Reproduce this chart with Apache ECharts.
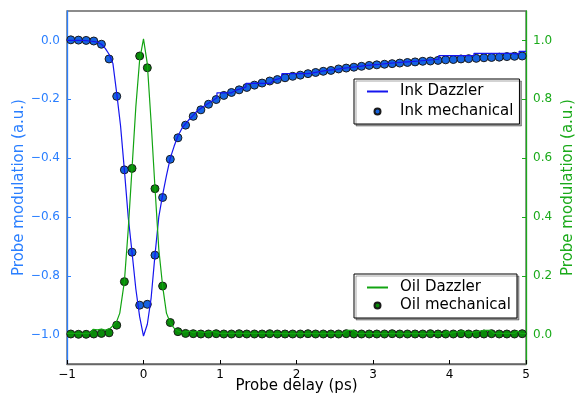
<!DOCTYPE html>
<html>
<head>
<meta charset="utf-8">
<script src="https://cdn.jsdelivr.net/npm/echarts@6/dist/echarts.min.js"></script>
<style>
  html, body { margin: 0; padding: 0; background: #fff; }
  #chart { width: 576px; height: 397px; }
</style>
</head>
<body>
<div id="chart"></div>
<script>
// 刻度
const xTicks = [-1, 0, 1, 2, 3, 4, 5]
const leftTicks = [-1.0, -0.8, -0.6, -0.4, -0.2, 0.0]
const rightTicks = [0.0, 0.2, 0.4, 0.6, 0.8, 1.0]

// 机械斩波的延迟点 (ps)
const mechDelay = [
  -0.95, -0.85, -0.75, -0.65, -0.55, -0.45, -0.35, -0.25, -0.15, -0.05,
  0.05, 0.15, 0.25, 0.35, 0.45, 0.55, 0.65, 0.75, 0.85, 0.95,
  1.05, 1.15, 1.25, 1.35, 1.45, 1.55, 1.65, 1.75, 1.85, 1.95,
  2.05, 2.15, 2.25, 2.35, 2.45, 2.55, 2.65, 2.75, 2.85, 2.95,
  3.05, 3.15, 3.25, 3.35, 3.45, 3.55, 3.65, 3.75, 3.85, 3.95,
  4.05, 4.15, 4.25, 4.35, 4.45, 4.55, 4.65, 4.75, 4.85, 4.95
]
const inkMech = [
  0.002, 0.001, 0.0, -0.002, -0.013, -0.063, -0.19, -0.44, -0.72, -0.9,
  -0.897, -0.73, -0.534, -0.404, -0.331, -0.288, -0.258, -0.236, -0.217, -0.201,
  -0.187, -0.177, -0.168, -0.16, -0.152, -0.145, -0.138, -0.133, -0.127, -0.122,
  -0.118, -0.113, -0.109, -0.105, -0.102, -0.097, -0.094, -0.091, -0.088, -0.085,
  -0.083, -0.081, -0.079, -0.077, -0.075, -0.073, -0.071, -0.07, -0.068, -0.066,
  -0.065, -0.063, -0.062, -0.061, -0.059, -0.058, -0.057, -0.055, -0.054, -0.053
]
const oilMech = [
  0.002, 0.001, 0.001, 0.002, 0.004, 0.006, 0.032, 0.18, 0.565, 0.947,
  0.907, 0.496, 0.165, 0.041, 0.01, 0.004, 0.003, 0.002, 0.002, 0.003,
  0.002, 0.002, 0.003, 0.002, 0.002, 0.002, 0.003, 0.002, 0.002, 0.002,
  0.002, 0.003, 0.002, 0.002, 0.002, 0.002, 0.003, 0.002, 0.002, 0.002,
  0.002, 0.002, 0.003, 0.002, 0.002, 0.002, 0.002, 0.003, 0.002, 0.002,
  0.002, 0.003, 0.002, 0.002, 0.002, 0.003, 0.002, 0.002, 0.002, 0.003
]

// Dazzler 曲线 [延迟, 数值]
const inkDazzler = [
  [-1.0, 0.0], [-0.9, 0.0], [-0.8, 0.0], [-0.7, -0.002], [-0.6, -0.006],
  [-0.55, -0.013], [-0.5, -0.027], [-0.45, -0.047], [-0.4, -0.078], [-0.35, -0.18],
  [-0.3, -0.29], [-0.25, -0.44], [-0.2, -0.6], [-0.15, -0.72], [-0.1, -0.845],
  [-0.05, -0.94], [0.0, -1.005], [0.05, -0.965], [0.1, -0.875], [0.15, -0.73],
  [0.2, -0.6], [0.25, -0.525], [0.3, -0.46], [0.35, -0.4], [0.4, -0.36],
  [0.45, -0.325], [0.5, -0.3], [0.55, -0.283], [0.6, -0.268], [0.65, -0.255],
  [0.7, -0.24], [0.8, -0.222], [0.9, -0.205], [0.96, -0.195], [0.96, -0.178],
  [1.15, -0.178], [1.2, -0.17], [1.3, -0.162], [1.34, -0.158], [1.34, -0.146],
  [1.66, -0.146], [1.7, -0.135], [1.8, -0.128], [1.81, -0.113], [2.14, -0.113],
  [2.2, -0.111], [2.3, -0.106], [2.4, -0.102], [2.5, -0.099], [2.6, -0.095],
  [2.7, -0.092], [2.8, -0.089], [2.9, -0.086], [3.0, -0.083], [3.1, -0.081],
  [3.2, -0.078], [3.3, -0.076], [3.4, -0.074], [3.5, -0.072], [3.6, -0.07],
  [3.6, -0.064], [3.86, -0.064], [3.86, -0.052], [4.32, -0.052], [4.32, -0.044],
  [4.82, -0.044], [4.84, -0.04], [4.86, -0.046], [4.91, -0.046], [4.91, -0.037],
  [5.0, -0.037]
]
const oilDazzler = [
  [-1.0, 0.004], [-0.9, 0.004], [-0.8, 0.003], [-0.7, 0.005], [-0.66, 0.018],
  [-0.6, 0.016], [-0.55, 0.019], [-0.5, 0.015], [-0.48, 0.018], [-0.44, 0.02],
  [-0.4, 0.03], [-0.35, 0.045], [-0.31, 0.073], [-0.25, 0.18], [-0.2, 0.356],
  [-0.15, 0.565], [-0.1, 0.775], [-0.05, 0.935], [0.0, 1.005], [0.05, 0.92],
  [0.1, 0.72], [0.15, 0.5], [0.2, 0.29], [0.25, 0.165], [0.3, 0.073],
  [0.35, 0.04], [0.4, 0.022], [0.45, 0.012], [0.5, 0.008], [0.56, 0.01],
  [0.6, 0.012], [0.65, 0.006], [0.7, 0.011], [0.8, 0.007], [0.9, 0.011],
  [1.0, 0.004], [1.5, 0.004], [2.0, 0.003], [2.6, 0.004], [2.66, 0.014],
  [2.75, 0.014], [2.8, 0.004], [3.5, 0.003], [3.93, 0.004], [3.97, 0.012],
  [4.01, 0.004], [4.15, 0.012], [4.19, 0.012], [4.23, 0.004], [4.45, 0.014],
  [4.54, 0.014], [4.58, 0.004], [4.85, 0.004], [4.89, 0.012], [4.93, 0.004],
  [5.0, 0.003]
]

const blueAxis = '#2a7fff'
const greenAxis = '#1aaa1a'
const fontName = 'DejaVu Sans'

const fmt = (v) => (v < 0 ? '\u2212' : '') + Math.abs(v).toFixed(1)
const pairs = (xs, ys) => xs.map((x, i) => [x, ys[i]])

// 两个图例共用的样式
const legendBase = {
  orient: 'vertical',
  left: 354,
  itemWidth: 21,
  itemHeight: 6,
  backgroundColor: '#fff',
  borderColor: '#000',
  borderWidth: 1,
  borderRadius: 0,
  shadowColor: 'rgba(0,0,0,0.35)',
  shadowBlur: 0,
  shadowOffsetX: 2,
  shadowOffsetY: 2,
  textStyle: { fontSize: 15, color: '#000', fontFamily: fontName, padding: [0, 0, 0, 7] }
}
// 线条图例不画中间的点
const noDot = { color: 'transparent', borderWidth: 0, opacity: 0 }

const chart = echarts.init(document.getElementById('chart'))

const option = {
  animation: false,
  backgroundColor: '#fff',
  textStyle: { fontFamily: fontName },
  grid: {
    left: 67,
    right: 50,
    top: 11,
    bottom: 33,
    outerBoundsMode: 'none',
    containLabel: false,
    show: true,
    borderColor: '#666',
    borderWidth: 1.3
  },
  legend: [
    Object.assign({}, legendBase, {
      data: [{ name: 'Ink Dazzler', itemStyle: noDot }, 'Ink mechanical'],
      top: 79,
      padding: [5, 6, 5, 12],
      itemGap: 5
    }),
    Object.assign({}, legendBase, {
      data: [{ name: 'Oil Dazzler', itemStyle: noDot }, 'Oil mechanical'],
      top: 274,
      padding: [6, 6, 5, 12],
      itemGap: 3
    })
  ],
  xAxis: {
    type: 'value',
    min: xTicks[0],
    max: xTicks[xTicks.length - 1],
    interval: 1,
    name: 'Probe delay (ps)',
    nameLocation: 'middle',
    nameMoveOverlap: false,
    nameGap: 15,
    nameTextStyle: { fontSize: 15, color: '#000', fontFamily: fontName },
    axisLine: { onZero: false, lineStyle: { color: '#666', width: 1.3 } },
    axisTick: { inside: true, length: 4, lineStyle: { color: '#000' } },
    axisLabel: {
      margin: 5,
      fontSize: 12,
      color: '#000',
      fontFamily: fontName,
      formatter: (v) => (v < 0 ? '\u2212' : '') + Math.abs(v)
    },
    splitLine: { show: false }
  },
  yAxis: [
    {
      type: 'value',
      position: 'left',
      min: -1.1,
      max: 0.1,
      name: 'Probe modulation (a.u.)',
      nameLocation: 'middle',
      nameMoveOverlap: false,
      nameRotate: 90,
      nameGap: 40,
      nameTextStyle: { fontSize: 15, color: blueAxis, fontFamily: fontName },
      axisLine: { show: true, onZero: false, lineStyle: { color: blueAxis, width: 1.3 } },
      axisTick: { show: true, inside: true, length: 4, customValues: leftTicks, lineStyle: { color: blueAxis } },
      axisLabel: { customValues: leftTicks, margin: 7, fontSize: 12, color: blueAxis, fontFamily: fontName, formatter: fmt },
      splitLine: { show: false }
    },
    {
      type: 'value',
      position: 'right',
      min: -0.1,
      max: 1.1,
      name: 'Probe modulation (a.u.)',
      nameLocation: 'middle',
      nameMoveOverlap: false,
      nameRotate: 90,
      nameGap: 35,
      nameTextStyle: { fontSize: 15, color: greenAxis, fontFamily: fontName },
      axisLine: { show: true, onZero: false, lineStyle: { color: greenAxis, width: 1.3 } },
      axisTick: { show: true, inside: true, length: 4, customValues: rightTicks, lineStyle: { color: greenAxis } },
      axisLabel: { customValues: rightTicks, margin: 7, fontSize: 12, color: greenAxis, fontFamily: fontName, formatter: fmt },
      splitLine: { show: false }
    }
  ],
  series: [
    {
      name: 'Ink Dazzler',
      type: 'line',
      yAxisIndex: 0,
      data: inkDazzler,
      symbol: 'none',
      color: '#1515ee',
      lineStyle: { width: 1.2, color: '#1515ee' }
    },
    {
      name: 'Ink mechanical',
      type: 'scatter',
      yAxisIndex: 0,
      data: pairs(mechDelay, inkMech),
      symbolSize: 8,
      itemStyle: { color: '#1563e0', borderColor: '#1a1a1a', borderWidth: 1, opacity: 1 }
    },
    {
      name: 'Oil Dazzler',
      type: 'line',
      yAxisIndex: 1,
      data: oilDazzler,
      symbol: 'none',
      color: '#12a412',
      lineStyle: { width: 1.2, color: '#12a412' }
    },
    {
      name: 'Oil mechanical',
      type: 'scatter',
      yAxisIndex: 1,
      data: pairs(mechDelay, oilMech),
      symbolSize: 8,
      itemStyle: { color: '#098a09', borderColor: '#1a1a1a', borderWidth: 1, opacity: 1 }
    }
  ]
}

chart.setOption(option)
</script>
</body>
</html>
